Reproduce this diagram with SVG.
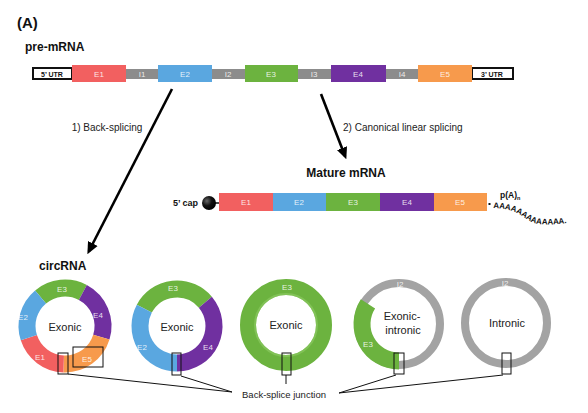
<svg xmlns="http://www.w3.org/2000/svg" width="588" height="413" viewBox="0 0 588 413">
<style>
text{font-family:"Liberation Sans",Arial,sans-serif}
.h{font-weight:bold;font-size:12px;fill:#111}
.lab{font-size:10px;fill:#222}
.ex{font-size:8px;fill:#fff;fill-opacity:0.85;text-anchor:middle}
.in{font-size:11px;fill:#222;text-anchor:middle}
.utr{font-size:7px;font-weight:bold;fill:#111;text-anchor:middle}
.box{fill:none;stroke:#111;stroke-width:1}
.conn{stroke:#111;stroke-width:1;fill:none}
.arr{stroke:#000;stroke-width:2.6;fill:none}
.ring{fill:none}
</style>
<defs>
<marker id="ah" viewBox="0 0 10 10" refX="7" refY="5" markerWidth="12" markerHeight="12" markerUnits="userSpaceOnUse" orient="auto">
<path d="M0,0.5 L10,5 L0,9.5 z" fill="#000"/>
</marker>
<radialGradient id="cap" cx="0.35" cy="0.35" r="0.7">
<stop offset="0" stop-color="#666"/>
<stop offset="0.5" stop-color="#111"/>
<stop offset="1" stop-color="#000"/>
</radialGradient>
<path id="polyA" d="M493,208 C503,208 512,210 519,214 C526,218 530,223 540,224 C552,225 560,224 574,222"/>
</defs>
<rect width="588" height="413" fill="#fff"/>

<text x="17" y="28" style="font-weight:bold;font-size:15px;fill:#111">(A)</text>
<text x="25" y="51" class="h">pre-mRNA</text>

<g id="pre-mRNA">
<rect x="72" y="69" width="400" height="10" fill="#8c8c8c"/>
<rect x="33" y="68" width="39" height="11" fill="#fff" stroke="#111" stroke-width="2"/>
<text x="52" y="76.5" class="utr">5’ UTR</text>
<rect x="472" y="68" width="41" height="11" fill="#fff" stroke="#111" stroke-width="2"/>
<text x="492" y="76.5" class="utr">3’ UTR</text>
<rect x="72" y="65" width="54" height="17" fill="#f26060"/>
<rect x="158" y="65" width="54" height="17" fill="#5aa7e0"/>
<rect x="245" y="65" width="53" height="17" fill="#6cb33f"/>
<rect x="331" y="65" width="55" height="17" fill="#7030a0"/>
<rect x="418" y="65" width="54" height="17" fill="#f79a4c"/>
<text x="99" y="77" class="ex">E1</text>
<text x="142" y="77" class="ex">I1</text>
<text x="185" y="77" class="ex">E2</text>
<text x="228" y="77" class="ex">I2</text>
<text x="271" y="77" class="ex">E3</text>
<text x="314" y="77" class="ex">I3</text>
<text x="358" y="77" class="ex">E4</text>
<text x="402" y="77" class="ex">I4</text>
<text x="445" y="77" class="ex">E5</text>
</g>

<g id="connectors">
<line x1="172" y1="89" x2="89" y2="251" class="arr" marker-end="url(#ah)"/>
<line x1="321" y1="94" x2="345" y2="156" class="arr" marker-end="url(#ah)"/>
<polyline points="68,374 232,392 181,376" class="conn"/>
<line x1="286" y1="375" x2="286" y2="384" class="conn"/>
<polyline points="396,375 339,393 503,375" class="conn"/>
</g>

<text x="107" y="131" class="lab" text-anchor="middle">1) Back-splicing</text>
<text x="343" y="131" class="lab">2) Canonical linear splicing</text>

<g id="mature-mRNA">
<text x="346" y="177" class="h" text-anchor="middle">Mature mRNA</text>
<rect x="219" y="193" width="54" height="18" fill="#f26060"/>
<rect x="273" y="193" width="53" height="18" fill="#5aa7e0"/>
<rect x="326" y="193" width="54" height="18" fill="#6cb33f"/>
<rect x="380" y="193" width="54" height="18" fill="#7030a0"/>
<rect x="434" y="193" width="53" height="18" fill="#f79a4c"/>
<text x="246" y="205" class="ex">E1</text>
<text x="299" y="205" class="ex">E2</text>
<text x="353" y="205" class="ex">E3</text>
<text x="407" y="205" class="ex">E4</text>
<text x="460" y="205" class="ex">E5</text>
<line x1="214" y1="203" x2="219" y2="203" stroke="#111" stroke-width="1.5"/>
<circle cx="209" cy="203" r="7" fill="url(#cap)"/>
<text x="198" y="206" text-anchor="end" style="font-weight:bold;font-size:9px;fill:#111">5’ cap</text>
<rect x="488.5" y="203" width="2" height="2" fill="#111"/>
<text x="500" y="198" style="font-weight:bold;font-size:8.5px;fill:#111">p(A)<tspan font-size="5.5" dy="2">n</tspan></text>
<text style="font-weight:bold;font-size:8px;fill:#111"><textPath href="#polyA">AAAAAAAAAAAAA.</textPath></text>
</g>

<text x="39" y="270" class="h">circRNA</text>

<g id="ring1">
<path d="M40.57,296.89 A38,38 0 0 1 82.84,292.45" class="ring" stroke="#6cb33f" stroke-width="17"/>
<path d="M82.84,292.45 A38,38 0 0 1 101.34,337.11" class="ring" stroke="#7030a0" stroke-width="17"/>
<path d="M101.34,337.11 A38,38 0 0 1 63.67,363.98" class="ring" stroke="#f79a4c" stroke-width="17"/>
<path d="M63.67,363.98 A38,38 0 0 1 28.86,337.74" class="ring" stroke="#f26060" stroke-width="17"/>
<path d="M28.86,337.74 A38,38 0 0 1 40.57,296.89" class="ring" stroke="#5aa7e0" stroke-width="17"/>
<text x="62" y="292" class="ex">E3</text>
<text x="23" y="320" class="ex">E2</text>
<text x="98" y="318" class="ex">E4</text>
<text x="40" y="360" class="ex">E1</text>
<text x="87" y="362" class="ex">E5</text>
<text x="65" y="331" class="in">Exonic</text>
<rect x="58" y="353" width="10" height="21" class="box"/>
<rect x="73" y="347" width="30" height="20" class="box"/>
</g>

<g id="ring2">
<path d="M144.33,308.63 A37,37 0 0 1 205.34,302.22" class="ring" stroke="#6cb33f" stroke-width="17"/>
<path d="M205.34,302.22 A37,37 0 0 1 177,363" class="ring" stroke="#7030a0" stroke-width="17"/>
<path d="M177,363 A37,37 0 0 1 144.33,308.63" class="ring" stroke="#5aa7e0" stroke-width="17"/>
<text x="173" y="291" class="ex">E3</text>
<text x="142" y="350" class="ex">E2</text>
<text x="208" y="350" class="ex">E4</text>
<text x="177" y="331" class="in">Exonic</text>
<rect x="172" y="353" width="9" height="22" class="box"/>
</g>

<g id="ring3">
<circle cx="286" cy="325" r="38" class="ring" stroke="#6cb33f" stroke-width="16"/>
<circle cx="286" cy="325" r="31" class="ring" stroke="#8fcc66" stroke-width="2" stroke-opacity="0.6"/>
<text x="287" y="290" class="ex">E3</text>
<text x="286" y="329" class="in">Exonic</text>
<rect x="282" y="353" width="9" height="22" class="box"/>
</g>

<g id="ring4">
<circle cx="399" cy="324" r="41" class="ring" stroke="#a3a3a3" stroke-width="8"/>
<path d="M399,361 A37,37 0 0 1 367.97,303.85" class="ring" stroke="#6cb33f" stroke-width="17"/>
<text x="400" y="287" class="ex">I2</text>
<text x="368" y="347" class="ex">E3</text>
<text x="402" y="320" class="in">Exonic-</text>
<text x="403" y="334" class="in">intronic</text>
<rect x="394" y="353" width="10" height="21" class="box"/>
</g>

<g id="ring5">
<circle cx="506" cy="323" r="41" class="ring" stroke="#a3a3a3" stroke-width="8"/>
<text x="505" y="286" class="ex">I2</text>
<text x="507" y="327" class="in">Intronic</text>
<rect x="502" y="353" width="9" height="21" class="box"/>
</g>

<text x="284" y="398" class="lab" text-anchor="middle" style="font-size:9.5px">Back-splice junction</text>
</svg>
